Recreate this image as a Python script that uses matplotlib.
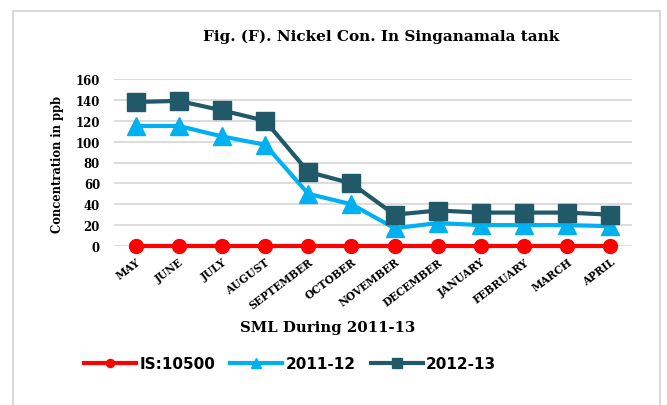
import matplotlib.pyplot as plt
from matplotlib.patches import Rectangle

months = ['MAY', 'JUNE', 'JULY', 'AUGUST', 'SEPTEMBER', 'OCTOBER', 'NOVEMBER',
          'DECEMBER', 'JANUARY', 'FEBRUARY', 'MARCH', 'APRIL']
is_10500 = [0, 0, 0, 0, 0, 0, 0, 0, 0, 0, 0, 0]
y2011_12 = [115, 115, 105, 97, 50, 40, 17, 22, 20, 20, 20, 19]
y2012_13 = [138, 139, 130, 120, 71, 60, 30, 34, 32, 32, 32, 30]
yticks = [0, 20, 40, 60, 80, 100, 120, 140, 160]

# the original text is Times stretched sideways; DejaVu Serif is the closer shape
serif = 'DejaVu Serif'

fig = plt.figure(figsize=(6.67, 4.06), dpi=100)
ax = fig.add_axes([114 / 667, 1 - 247 / 406, 518 / 667, 167 / 406])

x = range(len(months))
ax.plot(x, is_10500, color='#ff0000', lw=3, marker='o', ms=10, clip_on=False,
        zorder=3, label='IS:10500')
ax.plot(x, y2011_12, color='#00b0f0', lw=3, marker='^', ms=13.5, clip_on=False,
        zorder=4, label='2011-12')
ax.plot(x, y2012_13, color='#215968', lw=3, marker='s', ms=13, clip_on=False,
        zorder=5, label='2012-13')

ax.set_xlim(-0.5, len(months) - 0.5)
ax.set_ylim(0, 160)
ax.set_yticks(yticks)
ax.set_yticklabels([str(v) for v in yticks], fontfamily=serif,
                   fontweight='bold', fontsize=8.5)
ax.set_xticks(list(x))
ax.set_xticklabels(months, rotation=37, ha='right', rotation_mode='anchor',
                   fontfamily=serif, fontweight='bold', fontsize=7.6)
ax.tick_params(length=0, axis='both')
ax.tick_params(axis='x', pad=7)
ax.tick_params(axis='y', pad=10)
ax.grid(axis='y', color='#d9d9d9', lw=1.3)
ax.set_axisbelow(True)
for s in ax.spines.values():
    s.set_visible(False)

fig.text(381 / 667, 1 - 37 / 406, 'Fig. (F). Nickel Con. In Singanamala tank',
         ha='center', va='center', fontfamily=serif, fontweight='bold',
         fontsize=11)
fig.text(58 / 667, 1 - 165 / 406, 'Concentration in ppb', rotation=90,
         ha='center', va='center', fontfamily=serif, fontweight='bold',
         fontsize=8.3)
fig.text(328 / 667, 1 - 328 / 406, 'SML During 2011-13', ha='center',
         va='center', fontfamily=serif, fontweight='bold', fontsize=10.7)

fig.legend(loc='center', bbox_to_anchor=(290 / 667, 1 - 365 / 406), ncol=3,
           frameon=False, prop={'family': 'DejaVu Sans', 'weight': 'bold',
                                'size': 11},
           handlelength=3.4, handletextpad=0.2, columnspacing=1.0,
           markerscale=0.58)

fig.patches.append(Rectangle((13 / 667, -0.1), 647 / 667, 1.1 - 12 / 406,
                             transform=fig.transFigure, fill=False,
                             ec='#d9d9d9', lw=1.5))

fig.savefig('out.png', dpi=100)
